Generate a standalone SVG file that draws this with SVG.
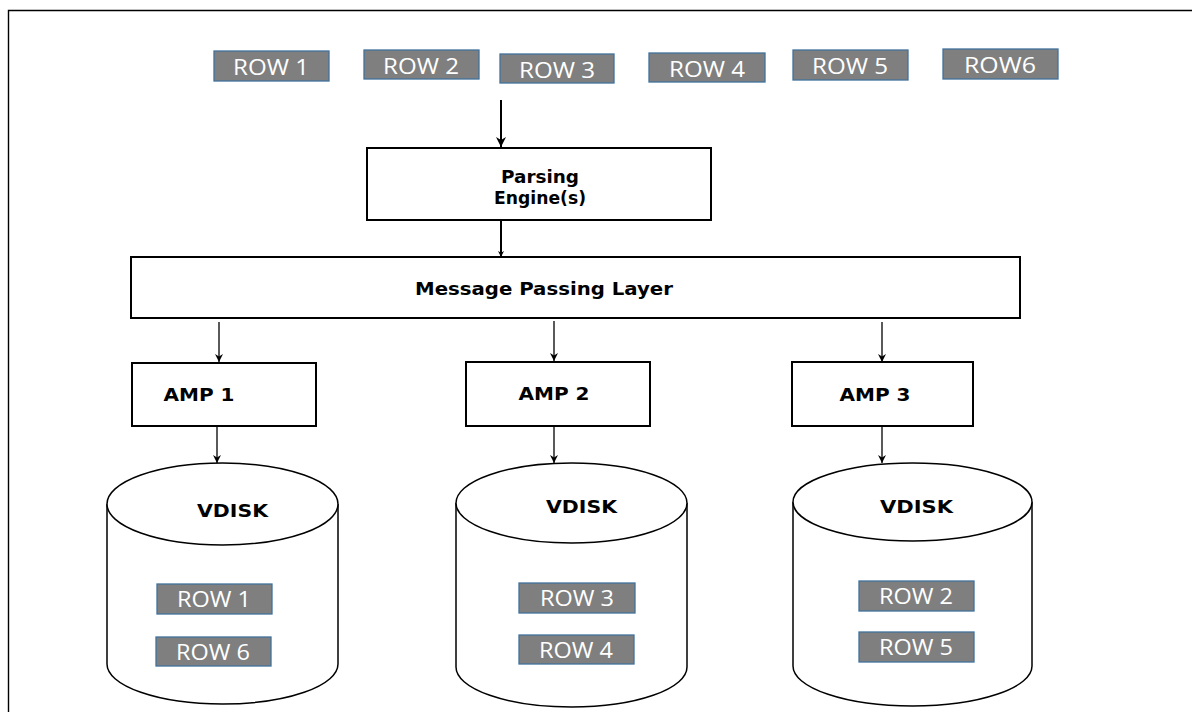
<svg xmlns="http://www.w3.org/2000/svg" width="1192" height="712" viewBox="0 0 1192 712">
  <defs>
    <style>
      .row rect { fill: #7f7f7f; stroke: #41719c; stroke-width: 1.3; }
      .row text { fill: #ffffff; font-family: "Open Sans", "Liberation Sans", sans-serif; font-size: 22px; text-anchor: middle; }
      .box { fill: #ffffff; stroke: #000000; stroke-width: 2; }
      .lbl { fill: #000000; font-family: "DejaVu Sans", "Liberation Sans", sans-serif; font-weight: bold; font-size: 18.5px; text-anchor: middle; }
      .disk { fill: #ffffff; stroke: #000000; stroke-width: 1.5; }
      .wire { stroke: #000000; stroke-width: 1.3; fill: none; }
      .wire.thick { stroke-width: 2; }
    </style>
    <marker id="arrow" viewBox="0 0 10 10" refX="10" refY="5" markerWidth="8" markerHeight="8" markerUnits="userSpaceOnUse" orient="auto">
      <path d="M0,0 L10,5 L0,10 L3,5 Z" fill="#000000"/>
    </marker>
    <marker id="arrowBig" viewBox="0 0 10 10" refX="10" refY="5" markerWidth="10" markerHeight="10" markerUnits="userSpaceOnUse" orient="auto">
      <path d="M0,0 L10,5 L0,10 L3,5 Z" fill="#000000"/>
    </marker>
    <marker id="arrowSmall" viewBox="0 0 10 10" refX="10" refY="5" markerWidth="6" markerHeight="6" markerUnits="userSpaceOnUse" orient="auto">
      <path d="M0,0 L10,5 L0,10 L3,5 Z" fill="#000000"/>
    </marker>
  </defs>

  <rect width="1192" height="712" fill="#ffffff"/>

  <!-- outer frame (top and left edges) -->
  <path d="M8.5,712 L8.5,10.5 L1192,10.5" fill="none" stroke="#000000" stroke-width="1.4"/>

  <!-- incoming rows -->
  <g id="row-1" class="row"><rect x="214" y="51" width="115" height="30"/><text x="271" y="75" textLength="76" lengthAdjust="spacingAndGlyphs">ROW 1</text></g>
  <g id="row-2" class="row"><rect x="364" y="50" width="115" height="29"/><text x="421" y="74" textLength="76" lengthAdjust="spacingAndGlyphs">ROW 2</text></g>
  <g id="row-3" class="row"><rect x="500" y="54" width="114" height="29"/><text x="557" y="78" textLength="76" lengthAdjust="spacingAndGlyphs">ROW 3</text></g>
  <g id="row-4" class="row"><rect x="649" y="53" width="116" height="29"/><text x="707" y="77" textLength="76" lengthAdjust="spacingAndGlyphs">ROW 4</text></g>
  <g id="row-5" class="row"><rect x="793" y="50" width="115" height="30"/><text x="850" y="74" textLength="76" lengthAdjust="spacingAndGlyphs">ROW 5</text></g>
  <g id="row-6" class="row"><rect x="943" y="49" width="115" height="30"/><text x="1000" y="73" textLength="72" lengthAdjust="spacingAndGlyphs">ROW6</text></g>

  <!-- connectors -->
  <g id="connectors">
    <line class="wire thick" x1="501" y1="100" x2="501" y2="147" marker-end="url(#arrowBig)"/>
    <line class="wire thick" x1="501" y1="221" x2="501" y2="257" marker-end="url(#arrowSmall)"/>
    <line class="wire" x1="219" y1="322" x2="219" y2="362" marker-end="url(#arrow)"/>
    <line class="wire" x1="554" y1="321" x2="554" y2="361" marker-end="url(#arrow)"/>
    <line class="wire" x1="882" y1="322" x2="882" y2="362" marker-end="url(#arrow)"/>
    <line class="wire" x1="217" y1="427" x2="217" y2="463" marker-end="url(#arrow)"/>
    <line class="wire" x1="554" y1="427" x2="554" y2="463" marker-end="url(#arrow)"/>
    <line class="wire" x1="882" y1="427" x2="882" y2="463" marker-end="url(#arrow)"/>
  </g>

  <!-- parsing engine -->
  <g id="parsing-engine">
    <rect class="box" x="367" y="148" width="344" height="72"/>
    <text class="lbl" x="540" y="183" textLength="78" lengthAdjust="spacingAndGlyphs">Parsing</text>
    <text class="lbl" x="540" y="204" textLength="92" lengthAdjust="spacingAndGlyphs">Engine(s)</text>
  </g>

  <!-- message passing layer -->
  <g id="message-passing-layer">
    <rect class="box" x="131" y="257" width="889" height="61"/>
    <text class="lbl" x="544" y="295" textLength="258" lengthAdjust="spacingAndGlyphs">Message Passing Layer</text>
  </g>

  <!-- access module processors -->
  <g id="amp-1">
    <rect class="box" x="132" y="363" width="184" height="63"/>
    <text class="lbl" x="199" y="401" textLength="71" lengthAdjust="spacingAndGlyphs">AMP 1</text>
  </g>
  <g id="amp-2">
    <rect class="box" x="466" y="362" width="184" height="64"/>
    <text class="lbl" x="554" y="400" textLength="71" lengthAdjust="spacingAndGlyphs">AMP 2</text>
  </g>
  <g id="amp-3">
    <rect class="box" x="792" y="362" width="181" height="64"/>
    <text class="lbl" x="875" y="401" textLength="71" lengthAdjust="spacingAndGlyphs">AMP 3</text>
  </g>

  <!-- virtual disks -->
  <g id="vdisk-1">
    <path class="disk" d="M107,504 L107,664 A115.5,40 0 0 0 338,664 L338,504"/>
    <ellipse class="disk" cx="222.5" cy="504" rx="115.5" ry="41"/>
    <text class="lbl" x="232.5" y="517" textLength="71" lengthAdjust="spacingAndGlyphs">VDISK</text>
    <g class="row"><rect x="157" y="584" width="115" height="30"/><text x="214" y="607" textLength="74" lengthAdjust="spacingAndGlyphs">ROW 1</text></g>
    <g class="row"><rect x="156" y="637" width="115" height="29"/><text x="213" y="660" textLength="74" lengthAdjust="spacingAndGlyphs">ROW 6</text></g>
  </g>
  <g id="vdisk-2">
    <path class="disk" d="M456,503 L456,667 A115.5,40 0 0 0 687,667 L687,503"/>
    <ellipse class="disk" cx="571.5" cy="503" rx="115.5" ry="40"/>
    <text class="lbl" x="581.5" y="513" textLength="71" lengthAdjust="spacingAndGlyphs">VDISK</text>
    <g class="row"><rect x="519" y="583" width="116" height="30"/><text x="577" y="606" textLength="74" lengthAdjust="spacingAndGlyphs">ROW 3</text></g>
    <g class="row"><rect x="519" y="635" width="115" height="29"/><text x="576" y="658" textLength="74" lengthAdjust="spacingAndGlyphs">ROW 4</text></g>
  </g>
  <g id="vdisk-3">
    <path class="disk" d="M793,502 L793,666 A119.5,40 0 0 0 1032,666 L1032,502"/>
    <ellipse class="disk" cx="912.5" cy="502" rx="119.5" ry="39"/>
    <text class="lbl" x="916.5" y="513" textLength="73" lengthAdjust="spacingAndGlyphs">VDISK</text>
    <g class="row"><rect x="859" y="581" width="115" height="30"/><text x="916" y="604" textLength="74" lengthAdjust="spacingAndGlyphs">ROW 2</text></g>
    <g class="row"><rect x="859" y="632" width="115" height="30"/><text x="916" y="655" textLength="74" lengthAdjust="spacingAndGlyphs">ROW 5</text></g>
  </g>
</svg>
